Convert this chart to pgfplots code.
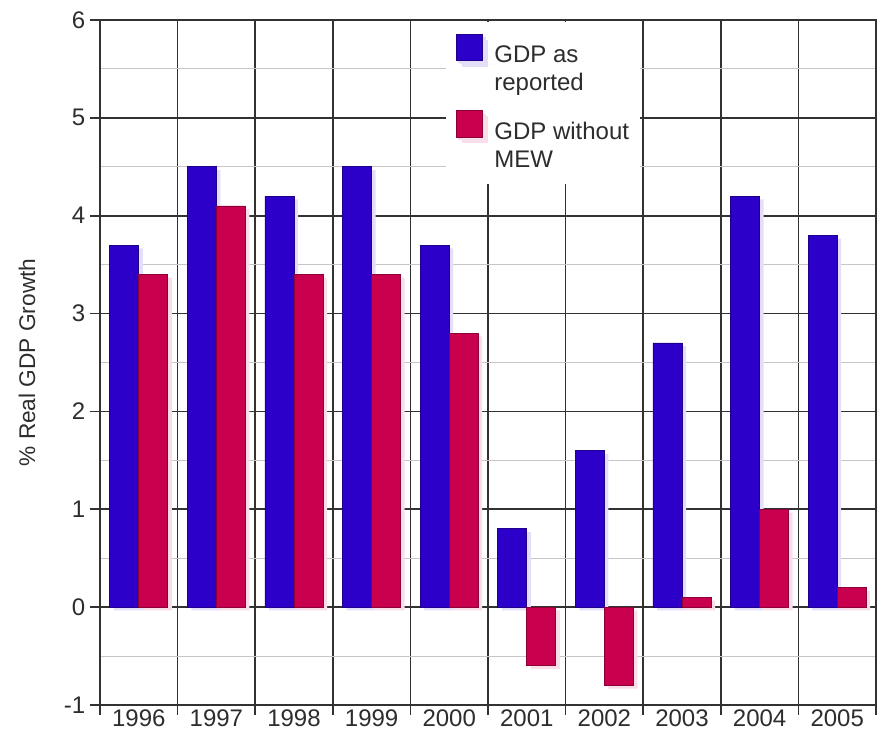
\documentclass[border=0pt]{standalone}
\usepackage{fontspec}
\setmainfont{Liberation Sans}
\usepackage{pgfplots}
\usepackage{pgfplotstable}
\pgfplotsset{compat=1.18}
\definecolor{gdpblue}{RGB}{44,0,200}
\definecolor{gdpred}{RGB}{200,0,78}
\definecolor{gridc}{RGB}{50,50,50}
\definecolor{minorc}{RGB}{200,196,200}
\definecolor{txt}{RGB}{45,45,45}
\pgfplotstableread{
x blue red
0 3.7 3.4
1 4.5 4.1
2 4.2 3.4
3 4.5 3.4
4 3.7 2.8
5 0.8 -0.6
6 1.6 -0.8
7 2.7 0.1
8 4.2 1.0
9 3.8 0.2
}\gdpdata
\begin{document}
\begin{tikzpicture}
\begin{axis}[
  name=ax,
  scale only axis,
  width=582pt, height=513.75pt,
  xmin=-0.5, xmax=9.5, ymin=-1, ymax=6,
  ybar, bar width=0.374,
  xtick={-0.5,0.5,...,9.5},
  xticklabel={\relax},
  extra x ticks={0,1,2,3,4,5,6,7,8,9},
  extra x tick labels={1996,1997,1998,1999,2000,2001,2002,2003,2004,2005},
  extra x tick style={major tick length=0pt, grid=none},
  ytick={-1,0,...,6},
  minor ytick={-0.5,0.5,...,5.5},
  xmajorgrids, ymajorgrids, yminorgrids,
  major grid style={gridc, line width=1.25pt},
  minor grid style={minorc, line width=0.8pt},
  tick align=outside, tick pos=left,
  major tick length=7.5pt, minor tick length=0pt,
  tick style={gridc, line width=1.25pt},
  axis line style={gridc, line width=1.25pt},
  /pgf/number format/assume math mode=true,
  ticklabel style={font=\fontsize{18}{21}\selectfont, text=txt},
  ylabel={\% Real GDP Growth},
  every axis y label/.style={at={(axis description cs:-0.094,0.5)}, rotate=90, anchor=center, font=\fontsize{17}{20}\selectfont, text=txt},
  legend style={at={(0.446,0.997)}, anchor=north west, draw=none, fill=white,
    font=\fontsize{18}{21}\selectfont, text=txt,
    inner xsep=6pt, inner ysep=8.5pt, row sep=11pt,
    cells={anchor=west, align=left}},
  legend cell align=left,
]
\addplot[fill=gdpblue, draw=gdpblue!70!black, line width=0.6pt, bar shift=-0.187,
  preaction={fill=gdpblue!13, draw=none, transform canvas={shift={(3pt,-2.5pt)}}},
  legend image code/.code={\fill[gdpblue!13, draw=none] (2.5pt,4.5pt) rectangle (22.5pt,24.5pt);
    \draw[fill=gdpblue, draw=gdpblue!70!black, line width=0.6pt] (1.5pt,6.5pt) rectangle (21pt,26.5pt);
    \path[draw=none, fill=none] (0pt,6.5pt) -- (28pt,6.5pt);}]
  table[x=x, y=blue]{\gdpdata};
\addlegendentry{GDP as\\reported}
\addplot[fill=gdpred, draw=gdpred!70!black, line width=0.6pt, bar shift=0.187,
  preaction={fill=gdpred!13, draw=none, transform canvas={shift={(3pt,-2.5pt)}}},
  legend image code/.code={\fill[gdpred!13, draw=none] (2.5pt,4.5pt) rectangle (22.5pt,24.5pt);
    \draw[fill=gdpred, draw=gdpred!70!black, line width=0.6pt] (1.5pt,6.5pt) rectangle (21pt,26.5pt);
    \path[draw=none, fill=none] (0pt,6.5pt) -- (28pt,6.5pt);}]
  table[x=x, y=red]{\gdpdata};
\addlegendentry{GDP without\\MEW}
\end{axis}
\pgfresetboundingbox
\useasboundingbox ([shift={(-75pt,-24.75pt)}]ax.south west) rectangle ([shift={(1.5pt,15pt)}]ax.north east);
\end{tikzpicture}
\end{document}
